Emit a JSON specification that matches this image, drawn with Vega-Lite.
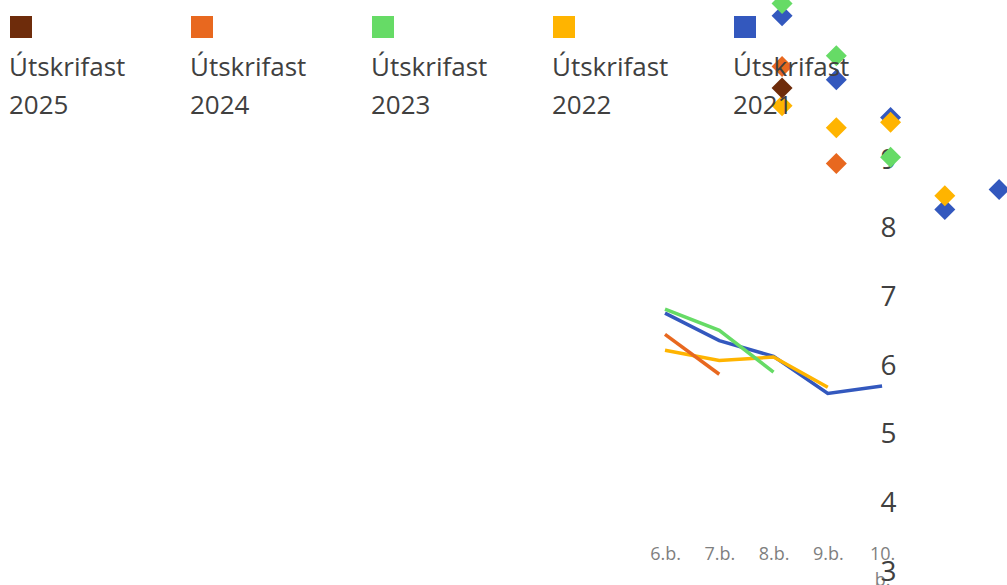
{
  "$schema": "https://vega.github.io/schema/vega-lite/v6.json",
  "width": 369,
  "height": 412,
  "autosize": {"type": "none"},
  "padding": {"left": 638, "top": 160, "right": 0, "bottom": 13},
  "background": "white",
  "config": {"view": {"stroke": null}, "font": "Open Sans"},
  "datasets": {
    "lines": [
      {"bekkur": "6.b.", "hopur": "Útskrifast 2021", "einkunn": 6.77},
      {"bekkur": "7.b.", "hopur": "Útskrifast 2021", "einkunn": 6.37},
      {"bekkur": "8.b.", "hopur": "Útskrifast 2021", "einkunn": 6.14},
      {"bekkur": "9.b.", "hopur": "Útskrifast 2021", "einkunn": 5.60},
      {"bekkur": "10.b.", "hopur": "Útskrifast 2021", "einkunn": 5.71},
      {"bekkur": "6.b.", "hopur": "Útskrifast 2022", "einkunn": 6.23},
      {"bekkur": "7.b.", "hopur": "Útskrifast 2022", "einkunn": 6.08},
      {"bekkur": "8.b.", "hopur": "Útskrifast 2022", "einkunn": 6.13},
      {"bekkur": "9.b.", "hopur": "Útskrifast 2022", "einkunn": 5.69},
      {"bekkur": "6.b.", "hopur": "Útskrifast 2023", "einkunn": 6.83},
      {"bekkur": "7.b.", "hopur": "Útskrifast 2023", "einkunn": 6.52},
      {"bekkur": "8.b.", "hopur": "Útskrifast 2023", "einkunn": 5.91},
      {"bekkur": "6.b.", "hopur": "Útskrifast 2024", "einkunn": 6.46},
      {"bekkur": "7.b.", "hopur": "Útskrifast 2024", "einkunn": 5.88}
    ],
    "diamonds": [
      {"bekkur": "6.b.", "hopur": "Útskrifast 2021", "einkunn": 11.10},
      {"bekkur": "7.b.", "hopur": "Útskrifast 2021", "einkunn": 10.17},
      {"bekkur": "8.b.", "hopur": "Útskrifast 2021", "einkunn": 9.62},
      {"bekkur": "9.b.", "hopur": "Útskrifast 2021", "einkunn": 8.28},
      {"bekkur": "10.b.", "hopur": "Útskrifast 2021", "einkunn": 8.57},
      {"bekkur": "6.b.", "hopur": "Útskrifast 2022", "einkunn": 9.79},
      {"bekkur": "7.b.", "hopur": "Útskrifast 2022", "einkunn": 9.47},
      {"bekkur": "8.b.", "hopur": "Útskrifast 2022", "einkunn": 9.55},
      {"bekkur": "9.b.", "hopur": "Útskrifast 2022", "einkunn": 8.48},
      {"bekkur": "6.b.", "hopur": "Útskrifast 2023", "einkunn": 11.28},
      {"bekkur": "7.b.", "hopur": "Útskrifast 2023", "einkunn": 10.52},
      {"bekkur": "8.b.", "hopur": "Útskrifast 2023", "einkunn": 9.04},
      {"bekkur": "6.b.", "hopur": "Útskrifast 2024", "einkunn": 10.36},
      {"bekkur": "7.b.", "hopur": "Útskrifast 2024", "einkunn": 8.95},
      {"bekkur": "6.b.", "hopur": "Útskrifast 2025", "einkunn": 10.05}
    ]
  },
  "layer": [
    {
      "data": {"name": "lines"},
      "mark": {"type": "line", "strokeWidth": 3.5},
      "encoding": {
        "x": {
          "field": "bekkur", "type": "ordinal",
          "scale": {"type": "point", "domain": ["6.b.", "7.b.", "8.b.", "9.b.", "10.b.", "_a", "_b"], "padding": 0.4, "align": 0.622},
          "axis": {
            "orient": "bottom", "offset": -27, "labelPadding": 0, "domain": false, "ticks": false, "grid": false,
            "values": ["6.b.", "7.b.", "8.b.", "9.b.", "10.b."],
            "title": null, "labelAngle": 0, "labelFontSize": 18, "labelColor": "#7f7f7f",
            "labelExpr": "datum.label == '10.b.' ? ['10.', 'b.'] : datum.label", "labelLineHeight": 26,
            "labelOverlap": false, "labelBaseline": "top"
          }
        },
        "y": {
          "field": "einkunn", "type": "quantitative",
          "scale": {"domain": [3, 9], "nice": false, "zero": false},
          "axis": {
            "orient": "right", "offset": -127, "labelPadding": 0, "domain": false, "ticks": false, "grid": false,
            "title": null, "values": [3, 4, 5, 6, 7, 8, 9], "format": "d", "labelFontSize": 28, "labelColor": "#404040",
            "labelAlign": "left", "labelBaseline": "middle"
          }
        },
        "color": {
          "field": "hopur", "type": "nominal",
          "scale": {
            "domain": ["Útskrifast 2025", "Útskrifast 2024", "Útskrifast 2023", "Útskrifast 2022", "Útskrifast 2021"],
            "range": ["#6E2C0B", "#E8681F", "#66DB66", "#FFB400", "#3358BE"]
          },
          "legend": {
            "orient": "none", "legendX": -630, "legendY": -146, "direction": "horizontal", "columns": 5,
            "title": null, "padding": 0, "columnPadding": 63, "gridAlign": "all",
            "symbolType": "square", "symbolSize": 484, "symbolStrokeWidth": 0, "symbolOpacity": 1,
            "labelFontSize": 26, "labelColor": "#404040", "labelOffset": -25,
            "labelBaseline": "top", "labelExpr": "split(datum.label, ' ')", "labelLimit": 300,
            "encode": {
              "labels": {"update": {"dy": {"value": 28}, "lineHeight": {"value": 38}}},
              "symbols": {"update": {"fill": {"scale": "color", "field": "value"}, "strokeWidth": {"value": 0}, "opacity": {"value": 1}}}
            }
          }
        }
      }
    },
    {
      "data": {"name": "diamonds"},
      "mark": {"type": "point", "shape": "diamond", "filled": true, "size": 441, "opacity": 1},
      "encoding": {
        "x": {
          "field": "bekkur", "type": "ordinal",
          "scale": {"type": "point", "domain": ["_a", "_b", "6.b.", "7.b.", "8.b.", "9.b.", "10.b."], "padding": 0.4, "align": 0.818},
          "axis": null
        },
        "y": {"field": "einkunn", "type": "quantitative"},
        "color": {"field": "hopur", "type": "nominal"}
      }
    }
  ],
  "resolve": {"scale": {"x": "independent"}}
}
